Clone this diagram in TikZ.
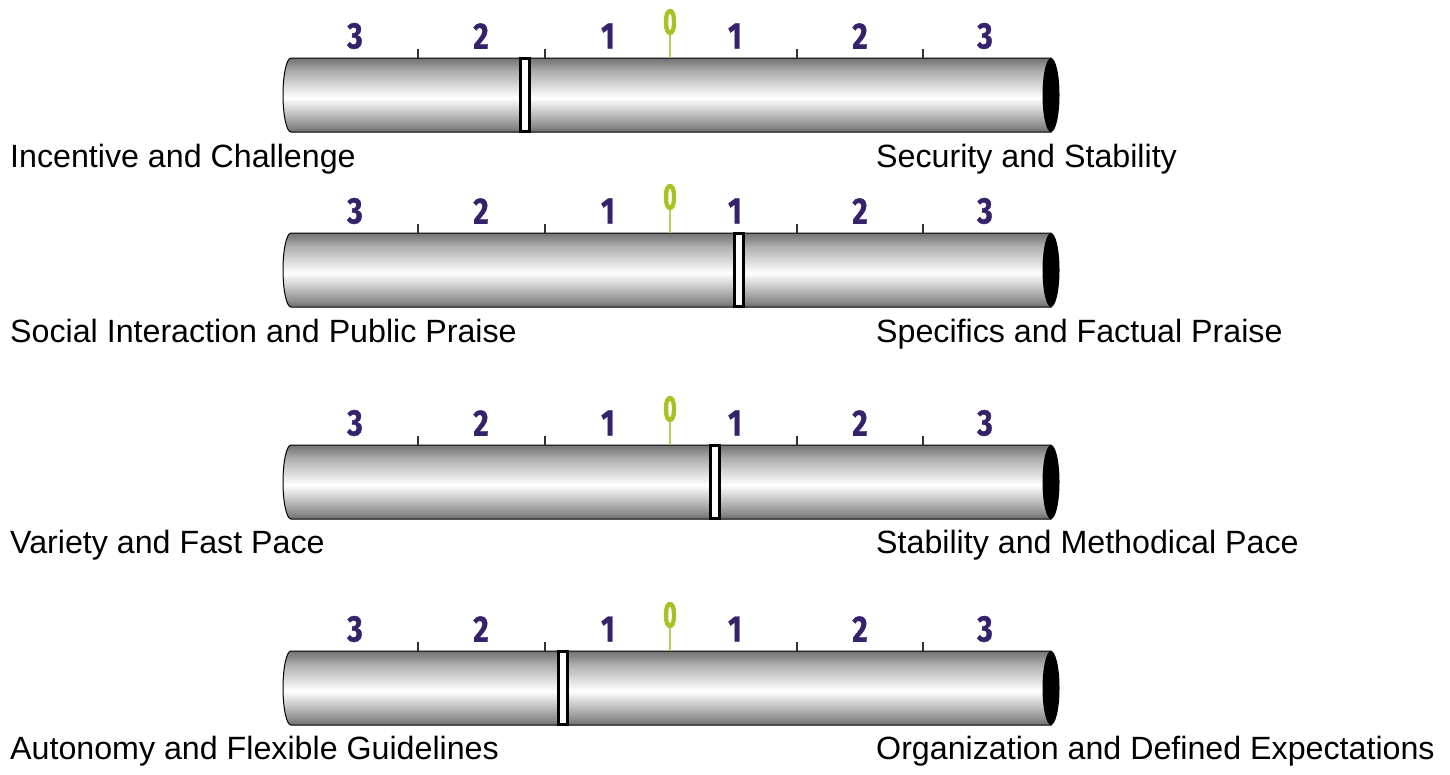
\documentclass[tikz,border=0pt]{standalone}
\usepackage{fontspec}
\setmainfont{Liberation Sans}
\newfontfamily\numfont[FakeStretch=0.8, BoldFeatures={FakeBold=1}]{Fira Sans}
\newfontfamily\zerofont[FakeStretch=0.8, BoldFeatures={FakeBold=2.5}]{Fira Sans}
\definecolor{numpurple}{HTML}{35226B}
\definecolor{zgreen}{HTML}{A8C224}
\definecolor{ztick}{HTML}{B4CC5A}
\pgfdeclareverticalshading{tube}{100bp}{color(0bp)=(black!58); color(25bp)=(black!58); color(29bp)=(black!45); color(36bp)=(black!28); color(48bp)=(white); color(56bp)=(black!14); color(66bp)=(black!32); color(72bp)=(black!48); color(75bp)=(black!55); color(100bp)=(black!55)}
\tikzset{
  num/.style={font=\numfont\bfseries\fontsize{37}{37}\selectfont, text=numpurple, inner sep=0pt, anchor=center},
  zero/.style={font=\zerofont\bfseries\fontsize{36}{36}\selectfont, text=zgreen, inner sep=0pt, anchor=center},
  tickline/.style={draw=black!80, line width=1.3pt},
  zerotick/.style={draw=ztick, line width=1.5pt},
  tubebody/.style={shading=tube, draw=black, line width=1pt},
  marker/.style={draw=black, fill=white, line width=3pt, minimum width=9pt, minimum height=73pt, inner sep=0pt},
  lbl/.style={font=\fontsize{32.2}{38}\selectfont, inner sep=0pt, anchor=base west}
}
\begin{document}
\begin{tikzpicture}[x=1pt,y=-1pt]
\useasboundingbox (0,0) rectangle (1450,774);
\foreach \t/\m/\i in {58/525/1, 233/739/2, 445/715/3, 651/563/4} {
  \shade[tubebody] (1051,\t) -- (291,\t) arc[start angle=270, end angle=90, x radius=8, y radius=37] -- (1051,\t+74) -- cycle;
  \fill[black] (1051,\t+37) ellipse[x radius=8.5, y radius=37];
  \coordinate (z\i) at (670,\t);
  \draw[tickline] (418,\t) -- ++(0,-9);
  \draw[tickline] (545,\t) -- ++(0,-9);
  \draw[tickline] (797,\t) -- ++(0,-9);
  \draw[tickline] (923,\t) -- ++(0,-9);
  \node[zero] (zn\i) at (670,\t-36) {\scalebox{0.8}[1]{0}};
  \draw[zerotick] (zn\i.south) -- (z\i);
  \node[num] (l3\i) at (355,\t-22) {3};
  \node[num] (l2\i) at (481,\t-22) {2};
  \node[num] (l1\i) at (608,\t-22) {1};
  \node[num] (r1\i) at (735,\t-22) {1};
  \node[num] (r2\i) at (860,\t-22) {2};
  \node[num] (r3\i) at (985,\t-22) {3};
  \node[marker] (m\i) at (\m,\t+37) {};
}
\node[lbl] (a1) at (10,167) {Incentive and Challenge};
\node[lbl] (b1) at (876,167) {Security and Stability};
\node[lbl] (a2) at (10,342) {Social Interaction and Public Praise};
\node[lbl] (b2) at (876,342) {Specifics and Factual Praise};
\node[lbl] (a3) at (10,553) {Variety and Fast Pace};
\node[lbl] (b3) at (876,553) {Stability and Methodical Pace};
\node[lbl] (a4) at (10,759) {Autonomy and Flexible Guidelines};
\node[lbl] (b4) at (876,759) {Organization and Defined Expectations};
\end{tikzpicture}
\end{document}
